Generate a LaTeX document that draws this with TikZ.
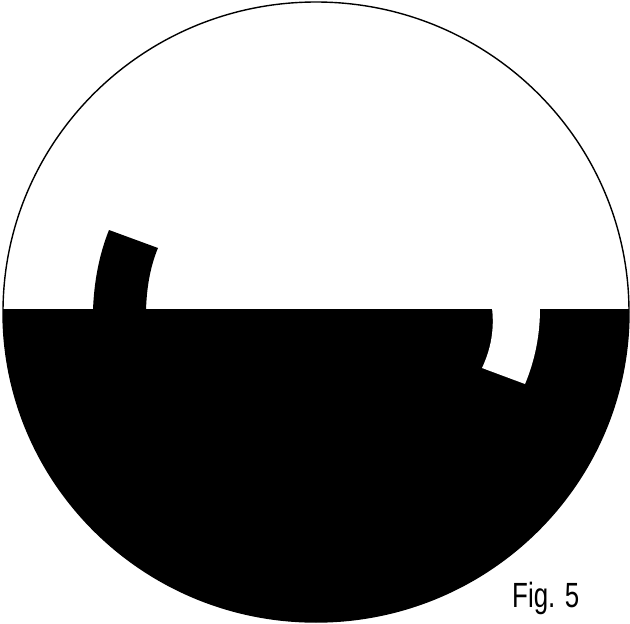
\documentclass[tikz,border=0pt]{standalone}
\usepackage{fontspec}
\newfontfamily\figfont[FakeStretch=0.74]{Liberation Sans}
\begin{document}
\begin{tikzpicture}[x=1pt,y=-1pt,line cap=round,line join=round]
  \useasboundingbox (0,0) rectangle (630,624);
  \begin{scope}
    \clip (316,312) ellipse [x radius=313,y radius=310];
    \fill[black] (0,309) rectangle (640,640);
    % raised tab on the left
    \fill[black] (93,310) .. controls (94,282) and (99,255) .. (109,230)
      -- (158,248) .. controls (150,267) and (146.5,289) .. (146,311) -- cycle;
    % cut-out on the right
    \fill[white] (492,308) .. controls (494.5,329) and (491,349) .. (482,368)
      -- (525,384) .. controls (535,360) and (540,335) .. (540,308) -- cycle;
  \end{scope}
  \draw[line width=1.4pt] (316,312) ellipse [x radius=313,y radius=310];
  \node[anchor=base west,inner sep=0pt,font=\figfont\fontsize{35}{40}\selectfont] (caption) at (512,607) {Fig. 5};
\end{tikzpicture}
\end{document}
